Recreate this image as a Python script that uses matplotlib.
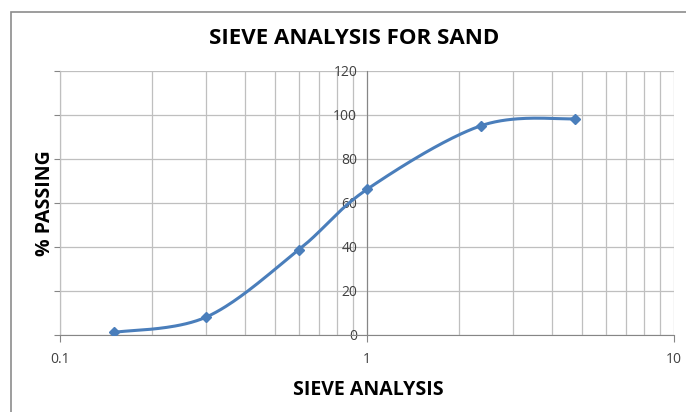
import matplotlib
matplotlib.use("Agg")
import matplotlib.pyplot as plt
from matplotlib.patches import Rectangle
from matplotlib.ticker import LogLocator, NullFormatter, FixedLocator
import numpy as np

# sieve size (mm) and percentage passing
sieve = [0.15, 0.3, 0.6, 1.0, 2.36, 4.75]
passing = [1.2, 8.2, 38.8, 66.2, 95.2, 98.3]

y_ticks = [0, 20, 40, 60, 80, 100, 120]
x_ticks = [0.1, 1, 10]
x_tick_labels = ["0.1", "1", "10"]

plt.rcParams['font.family'] = ['Open Sans', 'DejaVu Sans']


def smooth(xs, ys, n=40):
    # Excel-style smoothed line: cubic Bezier segments (Catmull-Rom) in log-x space
    px = np.log10(xs)
    py = np.array(ys, dtype=float)
    pts = np.column_stack([px, py])
    pad = np.vstack([pts[0], pts, pts[-1]])
    out = []
    t = np.linspace(0, 1, n)[:, None]
    for i in range(len(pts) - 1):
        p0, p3 = pad[i + 1], pad[i + 2]
        c1 = p0 + (pad[i + 2] - pad[i]) / 6
        c2 = p3 - (pad[i + 3] - pad[i + 1]) / 6
        seg = ((1 - t) ** 3) * p0 + 3 * ((1 - t) ** 2) * t * c1 + 3 * (1 - t) * t ** 2 * c2 + t ** 3 * p3
        out.append(seg if i == 0 else seg[1:])
    out = np.vstack(out)
    return 10 ** out[:, 0], out[:, 1]


fig = plt.figure(figsize=(6.86, 4.12), dpi=100)
ax = fig.add_axes([60 / 686, 1 - 335 / 412, 614 / 686, 264 / 412])

grid_c = '#BFBFBF'
axis_c = '#868686'
text_c = '#404040'
blue = '#4A7EBB'

ax.set_xscale('log')
ax.set_xlim(0.1, 10)
ax.set_ylim(0, 120)

ax.xaxis.set_major_locator(FixedLocator(x_ticks))
ax.set_xticklabels(x_tick_labels)
ax.xaxis.set_minor_locator(LogLocator(base=10, subs=range(2, 10)))
ax.xaxis.set_minor_formatter(NullFormatter())
ax.set_yticks(y_ticks)

ax.grid(True, which='both', axis='x', color=grid_c, lw=0.9)
ax.grid(True, which='major', axis='y', color=grid_c, lw=0.9)
ax.set_axisbelow(True)

for s in ['top', 'right']:
    ax.spines[s].set_visible(False)
ax.spines['left'].set_position(('data', 1))
ax.spines['left'].set_color(axis_c)
ax.spines['bottom'].set_color(axis_c)

ax.tick_params(axis='x', which='major', direction='out', length=5, color=axis_c,
               labelsize=10, labelcolor=text_c, pad=7)
ax.tick_params(axis='x', which='minor', length=0)
ax.tick_params(axis='y', length=0, labelsize=10, labelcolor=text_c, pad=7)

sec = ax.secondary_yaxis(0)
sec.set_yticks(y_ticks)
sec.tick_params(length=4, color=axis_c, labelleft=False)
sec.spines['left'].set_color(axis_c)

sx, sy = smooth(sieve, passing)
ax.plot(sx, sy, color=blue, lw=2.2, solid_capstyle='round', zorder=3)
ax.plot(sieve, passing, 'D', color=blue, markersize=5.5, zorder=4)

fig.text(354 / 686, 1 - 38 / 412, 'SIEVE ANALYSIS FOR SAND', ha='center', va='center',
         fontsize=16, fontweight='bold')
fig.text(368 / 686, 1 - 390 / 412, 'SIEVE ANALYSIS', ha='center', va='center',
         fontsize=14, fontweight='bold')
fig.text(45 / 686, 1 - 203 / 412, '% PASSING', ha='center', va='center', rotation=90,
         fontsize=14, fontweight='bold')

fig.patches.append(Rectangle((11 / 686, -0.1), 1.2, 1.1 - 12 / 412, transform=fig.transFigure,
                             fill=False, edgecolor='#8C8C8C', lw=1.2))

fig.savefig('out.png', dpi=100)
